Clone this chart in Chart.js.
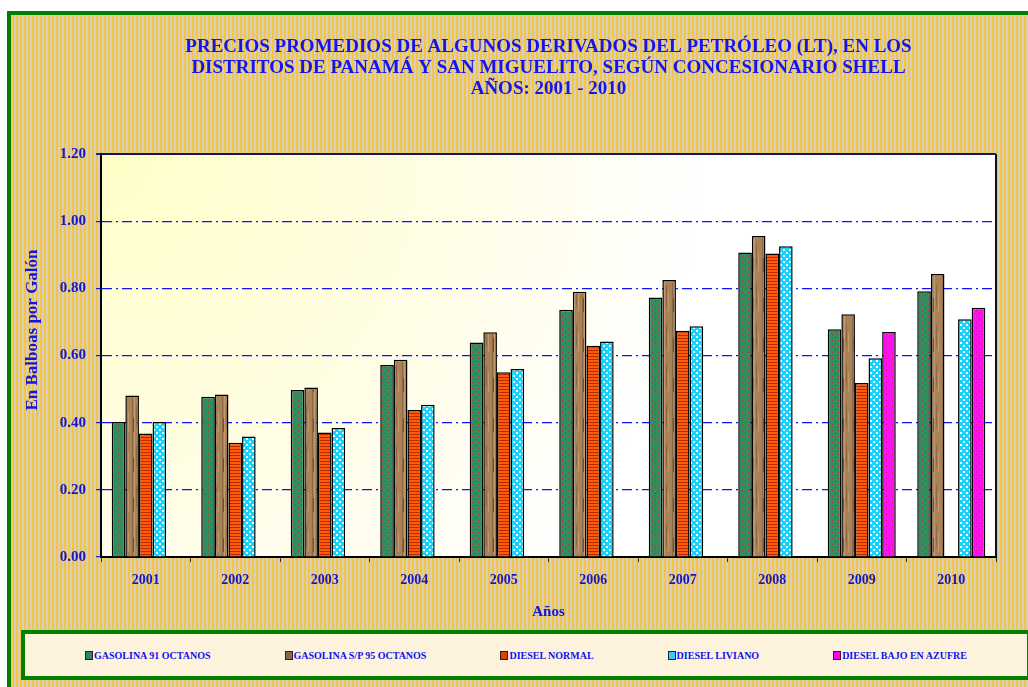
<!DOCTYPE html>
<html>
<head>
<meta charset="utf-8">
<script src="https://cdn.jsdelivr.net/npm/chart.js@4.4.1/dist/chart.umd.min.js"></script>
<style>
  body { margin: 0; background: #fff; }
  #wrap { position: relative; width: 1028px; height: 687px; overflow: hidden; }
  #chart { position: absolute; left: 0; top: 0; }
  #legend {
    position: absolute; left: 21px; top: 630px; width: 1010px; height: 50px;
    box-sizing: border-box; border: 4px solid #008000; background: #fdf3dc;
    display: flex; align-items: center; gap: 74px; padding-left: 60px;
    font: bold 10px 'Liberation Serif', 'Times New Roman', serif; color: #1010ee;
  }
  #legend span.item { display: flex; align-items: center; white-space: nowrap; }
  #legend i { display: inline-block; width: 6px; height: 7px; border: 1px solid #222; margin-right: 1px; }
</style>
</head>
<body>
<div id="wrap">
  <canvas id="chart" width="1028" height="687"></canvas>
  <div id="legend"></div>
</div>
<script>
const years = ['2001', '2002', '2003', '2004', '2005', '2006', '2007', '2008', '2009', '2010'];
const seriesNames = ['GASOLINA 91 OCTANOS', 'GASOLINA S/P 95 OCTANOS', 'DIESEL NORMAL', 'DIESEL LIVIANO', 'DIESEL BAJO EN AZUFRE'];
const gasolina91 = [0.402, 0.477, 0.497, 0.572, 0.639, 0.736, 0.773, 0.907, 0.678, 0.791];
const gasolina95 = [0.481, 0.484, 0.505, 0.587, 0.669, 0.790, 0.825, 0.956, 0.723, 0.843];
const dieselNormal = [0.368, 0.340, 0.371, 0.438, 0.550, 0.629, 0.674, 0.904, 0.518, null];
const dieselLiviano = [0.402, 0.359, 0.384, 0.453, 0.560, 0.642, 0.687, 0.925, 0.592, 0.708];
const dieselBajo = [null, null, null, null, null, null, null, null, 0.670, 0.742];
const yTicks = [0, 0.2, 0.4, 0.6, 0.8, 1.0, 1.2];
const yAxisTitle = 'En Balboas por Galón';

const serif = "'Liberation Serif', 'Times New Roman', serif";

// little canvases used as bar fill patterns
function makePattern(w, h, paint) {
  const c = document.createElement('canvas');
  c.width = w; c.height = h;
  const g = c.getContext('2d');
  paint(g);
  return g.createPattern(c, 'repeat');
}

const ctx0 = document.getElementById('chart').getContext('2d');

const greenDots = makePattern(6, 6, g => {
  g.fillStyle = '#2f8f5e'; g.fillRect(0, 0, 6, 6);
  g.fillStyle = '#a8323a'; g.fillRect(1, 1, 1, 1); g.fillRect(4, 4, 1, 1);
});
const wood = makePattern(10, 40, g => {
  g.fillStyle = '#a98257'; g.fillRect(0, 0, 10, 40);
  g.fillStyle = '#8c6844'; g.fillRect(2, 0, 1, 40); g.fillRect(6, 5, 1, 22);
  g.fillStyle = '#c09a6c'; g.fillRect(4, 0, 1, 40); g.fillRect(8, 12, 1, 20);
  g.fillStyle = '#6e5035'; g.fillRect(3, 18, 1, 14);
});
const orangeLines = makePattern(2, 3, g => {
  g.fillStyle = '#ff5a08'; g.fillRect(0, 0, 2, 3);
  g.fillStyle = '#b82a00'; g.fillRect(0, 2, 2, 1);
});
const cyanSquares = makePattern(6, 6, g => {
  g.fillStyle = '#14d4ff'; g.fillRect(0, 0, 6, 6);
  g.fillStyle = '#f4ffff'; g.fillRect(0, 0, 2, 2); g.fillRect(3, 3, 2, 2);
});
const magentaDots = makePattern(6, 6, g => {
  g.fillStyle = '#ff10ee'; g.fillRect(0, 0, 6, 6);
  g.fillStyle = '#c0208a'; g.fillRect(1, 1, 1, 1); g.fillRect(4, 4, 1, 1);
});
const stripes = makePattern(4, 2, g => {
  g.fillStyle = '#f2c641'; g.fillRect(0, 0, 2, 2);
  g.fillStyle = '#d9cdbb'; g.fillRect(2, 0, 2, 2);
});

const fills = [greenDots, wood, orangeLines, cyanSquares, magentaDots];
const swatches = ['#2e8b57', '#8b6a40', '#e04000', '#33ccff', '#ff00ff'];
const seriesData = [gasolina91, gasolina95, dieselNormal, dieselLiviano, dieselBajo];

const background = {
  id: 'background',
  beforeDraw(chart) {
    const { ctx, chartArea: a, width, height } = chart;
    ctx.save();
    ctx.fillStyle = '#fff';
    ctx.fillRect(0, 0, width, height);
    ctx.fillStyle = stripes;
    ctx.fillRect(9, 13, width, height);
    ctx.strokeStyle = '#008000';
    ctx.lineWidth = 4;
    ctx.strokeRect(9, 13, width + 10, height + 10);
    const grad = ctx.createRadialGradient(a.left, a.top, 0, a.left, a.top, 800);
    grad.addColorStop(0, '#ffffc8');
    grad.addColorStop(0.45, '#fffde6');
    grad.addColorStop(0.75, '#ffffff');
    grad.addColorStop(1, '#ffffff');
    ctx.fillStyle = grad;
    ctx.fillRect(a.left, a.top, a.right - a.left, a.bottom - a.top);
    ctx.strokeStyle = '#111';
    ctx.lineWidth = 2;
    ctx.beginPath();
    ctx.moveTo(a.right, a.top);
    ctx.lineTo(a.right, a.bottom);
    ctx.stroke();
    ctx.restore();
  },
  afterDraw(chart) {
    // y axis title sits a bit above the plot centre in the original
    const ctx = chart.ctx;
    ctx.save();
    ctx.translate(33, 330);
    ctx.rotate(-Math.PI / 2);
    ctx.textAlign = 'center';
    ctx.textBaseline = 'middle';
    ctx.font = 'bold 17px ' + serif;
    ctx.fillStyle = '#1414e0';
    ctx.fillText(yAxisTitle, 0, 0);
    ctx.restore();
  }
};

// keep the title centred on the plot area
const centerTitle = {
  id: 'centerTitle',
  afterLayout(chart) {
    if (chart.titleBlock) {
      chart.titleBlock.left = chart.chartArea.left;
      chart.titleBlock.right = chart.chartArea.right;
      chart.titleBlock.width = chart.chartArea.right - chart.chartArea.left;
    }
  }
};

new Chart(ctx0, {
  type: 'bar',
  data: {
    labels: years,
    datasets: seriesNames.map((name, i) => ({
      label: name,
      data: seriesData[i],
      backgroundColor: fills[i],
      borderColor: '#000',
      borderWidth: 1.5,
      categoryPercentage: 0.76,
      barPercentage: 1.0
    }))
  },
  options: {
    responsive: false,
    animation: false,
    layout: { padding: { left: 10, right: 32, top: 0, bottom: 57 } },
    plugins: {
      legend: { display: false },
      tooltip: { enabled: false },
      title: {
        display: true,
        text: [
          'PRECIOS PROMEDIOS DE ALGUNOS DERIVADOS DEL PETRÓLEO (LT), EN LOS',
          'DISTRITOS DE PANAMÁ Y SAN MIGUELITO, SEGÚN CONCESIONARIO SHELL',
          'AÑOS: 2001 - 2010'
        ],
        color: '#1414f0',
        font: { family: serif, size: 19, weight: 'bold', lineHeight: '21px' },
        padding: { top: 37, bottom: 54 }
      }
    },
    scales: {
      x: {
        afterFit(scale) { scale.height = 73; },
        grid: { offset: true, drawOnChartArea: false, drawTicks: true, tickLength: 5, tickColor: '#333' },
        border: { display: true, color: '#000', width: 2 },
        ticks: { color: '#1616c8', padding: 10, font: { family: serif, size: 14, weight: 'bold' } },
        title: {
          display: true, text: 'Años', color: '#1414e0',
          font: { family: serif, size: 15, weight: 'bold', lineHeight: 1.2 },
          padding: { top: 0, bottom: 9 }
        }
      },
      y: {
        min: 0,
        max: 1.2,
        afterFit(scale) { scale.width = 91; },
        afterBuildTicks(scale) { scale.ticks = yTicks.map(v => ({ value: v })); },
        ticks: {
          color: '#1616c8', padding: 10,
          font: { family: serif, size: 15, weight: 'bold' },
          callback: v => Number(v).toFixed(2)
        },
        grid: {
          drawTicks: true, tickLength: 5, tickColor: '#1a1ad0', tickBorderDash: [],
          color: c => (c.tick && c.tick.value === 0) ? 'rgba(0,0,0,0)'
                    : (c.tick && c.tick.value > 1.19 ? '#1b1b4a' : '#1010ff'),
          lineWidth: c => (c.tick && c.tick.value > 1.19) ? 2 : 1.2
        },
        border: {
          display: true, color: '#000', width: 2,
          dash: c => (c.tick && c.tick.value > 0.01 && c.tick.value < 1.19) ? [10, 4, 2, 4] : []
        },
        title: { display: false }
      }
    }
  },
  plugins: [background, centerTitle]
});

// html legend built from the series names
const legendEl = document.getElementById('legend');
seriesNames.forEach((name, i) => {
  const item = document.createElement('span');
  item.className = 'item';
  const box = document.createElement('i');
  box.style.background = swatches[i];
  item.appendChild(box);
  item.appendChild(document.createTextNode(name));
  legendEl.appendChild(item);
});
</script>
</body>
</html>
